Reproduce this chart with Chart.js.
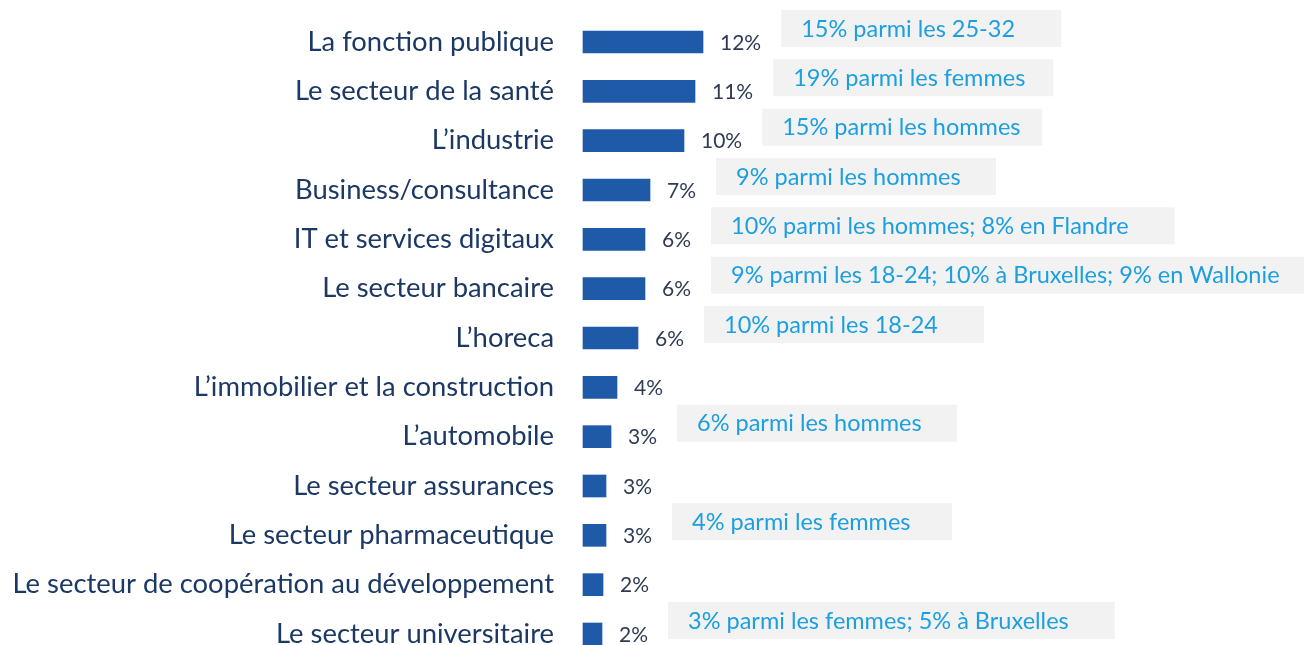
<!DOCTYPE html>
<html>
<head>
    <meta charset="utf-8" />
    <title>Secteurs</title>
    <script src="https://cdn.jsdelivr.net/npm/chart.js@4.4.1/dist/chart.umd.min.js"></script>
    <style>
        html, body { margin: 0; padding: 0; background: #fff; }
        #wrap { width: 1304px; height: 645px; position: relative; }
    </style>
</head>
<body>
    <div id="wrap"><canvas id="chtSecteurs"></canvas></div>

    <script>
        // donnees
        const secteurs = [
            'La fonction publique',
            'Le secteur de la santé',
            'L\u2019industrie',
            'Business/consultance',
            'IT et services digitaux',
            'Le secteur bancaire',
            'L\u2019horeca',
            'L\u2019immobilier et la construction',
            'L\u2019automobile',
            'Le secteur assurances',
            'Le secteur pharmaceutique',
            'Le secteur de coopération au développement',
            'Le secteur universitaire'
        ];
        const valeurs = [12.0, 11.2, 10.1, 6.7, 6.2, 6.2, 5.5, 3.4, 2.8, 2.3, 2.3, 2.0, 1.9];
        const etiquettes = ['12%', '11%', '10%', '7%', '6%', '6%', '6%', '4%', '3%', '3%', '3%', '2%', '2%'];
        const notes = [
            '15% parmi les 25-32',
            '19% parmi les femmes',
            '15% parmi les hommes',
            '9% parmi les hommes',
            '10% parmi les hommes; 8% en Flandre',
            '9% parmi les 18-24; 10% à Bruxelles; 9% en Wallonie',
            '10% parmi les 18-24',
            '',
            '6% parmi les hommes',
            '',
            '4% parmi les femmes',
            '',
            '3% parmi les femmes; 5% à Bruxelles'
        ];

        const fontNote = '23.5px Lato';

        // valeurs + encadres gris a droite des barres
        const pluginEtiquettes = {
            id: 'etiquettes',
            afterDatasetsDraw(chart) {
                const ctx = chart.ctx;
                const meta = chart.getDatasetMeta(0);
                ctx.save();
                meta.data.forEach((bar, i) => {
                    const xFin = bar.x + 17;
                    ctx.font = '21px Lato';
                    ctx.fillStyle = '#2e3b52';
                    ctx.textAlign = 'left';
                    ctx.textBaseline = 'middle';
                    ctx.fillText(etiquettes[i], xFin, bar.y + 1);
                    const larg = ctx.measureText(etiquettes[i]).width;

                    if (!notes[i]) return;
                    ctx.font = fontNote;
                    const lt = ctx.measureText(notes[i]).width;
                    const bx = xFin + larg + 20;
                    const bw = lt > 300 ? lt + 66 : 280;
                    ctx.fillStyle = '#f2f2f2';
                    ctx.fillRect(bx, bar.y - 32, bw, 37);
                    ctx.fillStyle = '#1b9fe0';
                    ctx.fillText(notes[i], bx + 20, bar.y - 13);
                });
                ctx.restore();
            }
        };

        new Chart(document.getElementById('chtSecteurs').getContext('2d'), {
            type: 'bar',
            data: {
                labels: secteurs,
                datasets: [{
                    data: valeurs,
                    backgroundColor: '#1f5aa8',
                    barThickness: 22,
                    clip: false
                }]
            },
            options: {
                indexAxis: 'y',
                responsive: true,
                maintainAspectRatio: false,
                animation: false,
                layout: { padding: { top: 42, bottom: 11, left: 0, right: 1 } },
                plugins: {
                    legend: { display: false },
                    tooltip: { enabled: false }
                },
                scales: {
                    x: { display: false, min: 0, max: 72 },
                    y: {
                        offset: false,
                        grid: { display: false, drawTicks: false },
                        border: { display: false },
                        afterFit(scale) {
                            scale.width = 583;
                            scale.paddingTop = 0;
                            scale.paddingBottom = 0;
                        },
                        ticks: {
                            padding: 29,
                            autoSkip: false,
                            color: '#1c3864',
                            font: { family: 'Lato', size: 27.4 }
                        }
                    }
                }
            },
            plugins: [pluginEtiquettes]
        });
    </script>
</body>
</html>
